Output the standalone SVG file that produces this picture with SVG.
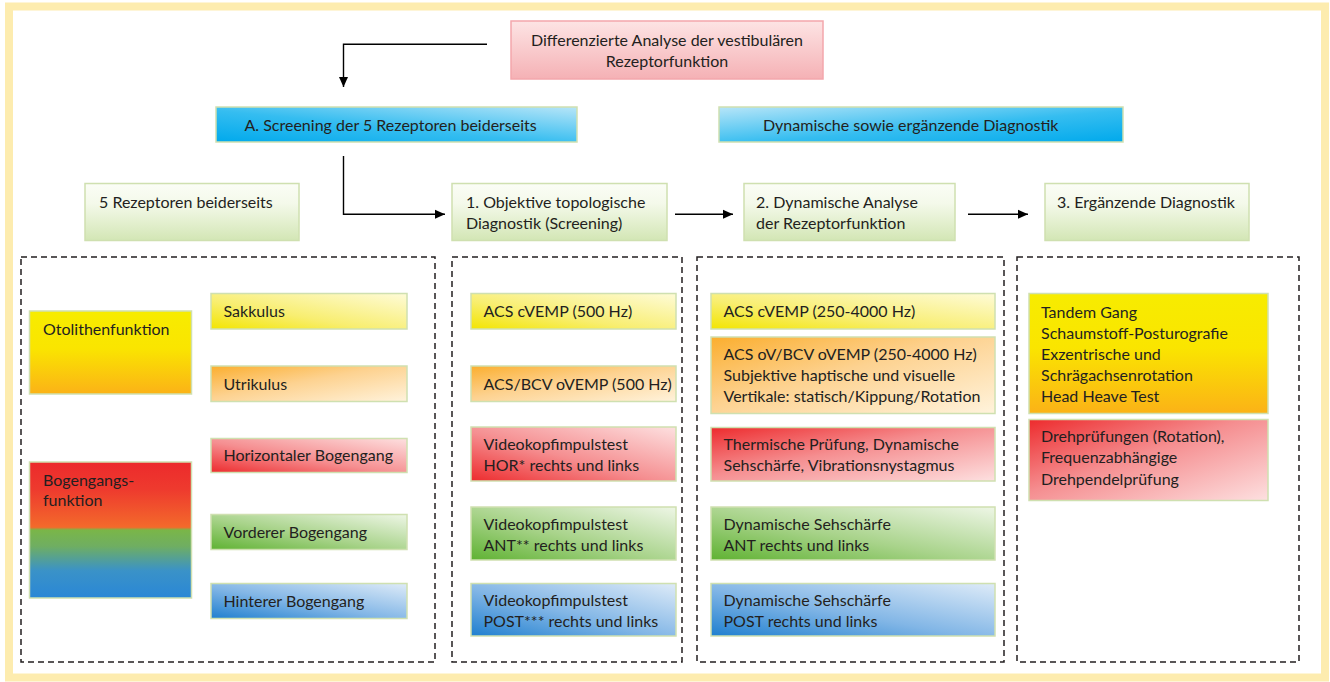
<svg xmlns="http://www.w3.org/2000/svg" width="1330" height="682" viewBox="0 0 1330 682">
<defs>
<style>
text{font-family:Lato,"Open Sans","Liberation Sans",sans-serif;font-size:16px;fill:#231f20}
.box{stroke:#cfe0b0;stroke-width:1.5}
.dash{fill:none;stroke:#231f20;stroke-width:1.5;stroke-dasharray:6 4}
.conn{fill:none;stroke:#000;stroke-width:1.4}
</style>
<marker id="ah" markerUnits="userSpaceOnUse" markerWidth="10" markerHeight="10" viewBox="0 0 10 10" refX="10" refY="5" orient="auto">
<path d="M0,0.5 L10,5 L0,9.5 Z" fill="#000"/>
</marker>
<linearGradient id="gPink" x1="0" y1="0" x2="0" y2="1"><stop offset="0" stop-color="#fde4e4"/><stop offset="1" stop-color="#f5b1b5"/></linearGradient>
<linearGradient id="gBlueA" x1="0" y1="1" x2="1" y2="0"><stop offset="0" stop-color="#00a9ec"/><stop offset="0.45" stop-color="#35bdf0"/><stop offset="1" stop-color="#b7e5f8"/></linearGradient>
<linearGradient id="gBlueB" x1="1" y1="1" x2="0" y2="0"><stop offset="0" stop-color="#00a9ec"/><stop offset="0.45" stop-color="#35bdf0"/><stop offset="1" stop-color="#b7e5f8"/></linearGradient>
<linearGradient id="gGreenV" x1="0" y1="0" x2="0" y2="1"><stop offset="0" stop-color="#fbfdf6"/><stop offset="0.35" stop-color="#f4f9ea"/><stop offset="1" stop-color="#d3e6b5"/></linearGradient>
<linearGradient id="gYO" x1="0" y1="0" x2="0" y2="1"><stop offset="0" stop-color="#f7ec00"/><stop offset="0.45" stop-color="#fae500"/><stop offset="1" stop-color="#fbb217"/></linearGradient>
<linearGradient id="gBog" x1="0" y1="0" x2="0" y2="1"><stop offset="0" stop-color="#ec2a2c"/><stop offset="0.2" stop-color="#ee3a2e"/><stop offset="0.48" stop-color="#f36a2b"/><stop offset="0.5" stop-color="#7ab648"/><stop offset="0.62" stop-color="#6fae62"/><stop offset="0.8" stop-color="#3a92c8"/><stop offset="1" stop-color="#2a87d6"/></linearGradient>
<linearGradient id="gY" x1="0" y1="1" x2="1" y2="0"><stop offset="0" stop-color="#f3e500"/><stop offset="0.4" stop-color="#f8ee70"/><stop offset="1" stop-color="#fefbd8"/></linearGradient>
<linearGradient id="gO" x1="0" y1="0" x2="1" y2="1"><stop offset="0" stop-color="#fbae2e"/><stop offset="0.45" stop-color="#fdd290"/><stop offset="1" stop-color="#fff3dc"/></linearGradient>
<linearGradient id="gR" x1="0" y1="1" x2="1" y2="0"><stop offset="0" stop-color="#ed2b2d"/><stop offset="0.45" stop-color="#f58e90"/><stop offset="1" stop-color="#fde0e0"/></linearGradient>
<linearGradient id="gR2" x1="0" y1="0" x2="1" y2="1"><stop offset="0" stop-color="#ed2b2d"/><stop offset="0.45" stop-color="#f58e90"/><stop offset="1" stop-color="#fde0e0"/></linearGradient>
<linearGradient id="gG" x1="0" y1="1" x2="1" y2="0"><stop offset="0" stop-color="#5fb232"/><stop offset="0.45" stop-color="#a8d38a"/><stop offset="1" stop-color="#eef6e6"/></linearGradient>
<linearGradient id="gB" x1="0" y1="1" x2="1" y2="0"><stop offset="0" stop-color="#1f7fcf"/><stop offset="0.45" stop-color="#82b6e6"/><stop offset="1" stop-color="#deebf8"/></linearGradient>
</defs>

<rect x="9" y="6.5" width="1316" height="671" fill="#ffffff" stroke="#fdecaf" stroke-width="8"/>

<g id="connectors">
<path class="conn" d="M487,44.3 H343.5 V87" marker-end="url(#ah)"/>
<path class="conn" d="M343.5,156 V214.3 H445" marker-end="url(#ah)"/>
<path class="conn" d="M675,214.3 H733" marker-end="url(#ah)"/>
<path class="conn" d="M968,214.3 H1028" marker-end="url(#ah)"/>
</g>

<g id="top">
<rect x="511" y="21" width="312" height="58" fill="url(#gPink)" stroke="#f3a7ac" stroke-width="1.5"/>
<text x="667" y="45.5" text-anchor="middle">Differenzierte Analyse der vestibulären</text>
<text x="667" y="66.5" text-anchor="middle">Rezeptorfunktion</text>
</g>

<g id="screeningA">
<rect class="box" x="216" y="107" width="361" height="35" fill="url(#gBlueA)"/>
<text x="244.5" y="131">A. Screening der 5 Rezeptoren beiderseits</text>
</g>
<g id="dynamischB">
<rect class="box" x="719" y="107" width="404" height="35" fill="url(#gBlueB)"/>
<text x="763" y="131">Dynamische sowie ergänzende Diagnostik</text>
</g>

<g id="rezeptoren">
<rect class="box" x="85" y="183.5" width="214" height="57" fill="url(#gGreenV)"/>
<text x="99" y="208">5 Rezeptoren beiderseits</text>
</g>
<g id="objektive">
<rect class="box" x="452" y="183.5" width="215" height="57" fill="url(#gGreenV)"/>
<text x="466" y="208">1. Objektive topologische</text>
<text x="466" y="229">Diagnostik (Screening)</text>
</g>
<g id="dynamische">
<rect class="box" x="744" y="183.5" width="211" height="57" fill="url(#gGreenV)"/>
<text x="756" y="208">2. Dynamische Analyse</text>
<text x="756" y="229">der Rezeptorfunktion</text>
</g>
<g id="ergaenzende">
<rect class="box" x="1045" y="183.5" width="204" height="57" fill="url(#gGreenV)"/>
<text x="1057" y="208">3. Ergänzende Diagnostik</text>
</g>

<g id="containers">
<rect class="dash" x="21" y="257" width="414" height="405"/>
<rect class="dash" x="452" y="257" width="230" height="405"/>
<rect class="dash" x="697" y="257" width="307" height="405"/>
<rect class="dash" x="1017" y="257" width="282" height="405"/>
</g>

<g id="otolithen">
<rect class="box" x="29.5" y="311" width="162" height="83" fill="url(#gYO)"/>
<text x="43" y="334.5">Otolithenfunktion</text>
</g>
<g id="bogengang">
<rect class="box" x="29.5" y="462" width="162" height="136" fill="url(#gBog)"/>
<text x="43" y="485.5">Bogengangs-</text>
<text x="43" y="505.5">funktion</text>
</g>
<g id="sakkulus">
<rect class="box" x="211" y="293.5" width="196" height="35.5" fill="url(#gY)"/>
<text x="223.5" y="317">Sakkulus</text>
</g>
<g id="utrikulus">
<rect class="box" x="211" y="366" width="196" height="35.5" fill="url(#gO)"/>
<text x="223.5" y="389.5">Utrikulus</text>
</g>
<g id="horizontal">
<rect class="box" x="211" y="438.5" width="196" height="34" fill="url(#gR)"/>
<text x="223.5" y="461">Horizontaler Bogengang</text>
</g>
<g id="vorderer">
<rect class="box" x="211" y="514.5" width="196" height="35" fill="url(#gG)"/>
<text x="223.5" y="537.8">Vorderer Bogengang</text>
</g>
<g id="hinterer">
<rect class="box" x="211" y="583.5" width="196" height="35" fill="url(#gB)"/>
<text x="223.5" y="606.5">Hinterer Bogengang</text>
</g>

<g id="c2-cvemp">
<rect class="box" x="471" y="293.5" width="205" height="35.5" fill="url(#gY)"/>
<text x="483.5" y="317.2">ACS cVEMP (500 Hz)</text>
</g>
<g id="c2-ovemp">
<rect class="box" x="471" y="366" width="205" height="35.5" fill="url(#gO)"/>
<text x="483.5" y="389.5">ACS/BCV oVEMP (500 Hz)</text>
</g>
<g id="c2-hor">
<rect class="box" x="471" y="427" width="205" height="54" fill="url(#gR)"/>
<text x="483.5" y="449.5">Videokopfimpulstest</text>
<text x="483.5" y="470.8">HOR* rechts und links</text>
</g>
<g id="c2-ant">
<rect class="box" x="471" y="507" width="205" height="53" fill="url(#gG)"/>
<text x="483.5" y="529.8">Videokopfimpulstest</text>
<text x="483.5" y="550.8">ANT** rechts und links</text>
</g>
<g id="c2-post">
<rect class="box" x="471" y="583.5" width="205" height="52.5" fill="url(#gB)"/>
<text x="483.5" y="606.2">Videokopfimpulstest</text>
<text x="483.5" y="627.2">POST*** rechts und links</text>
</g>

<g id="c3-cvemp">
<rect class="box" x="711" y="293.5" width="284" height="35.5" fill="url(#gY)"/>
<text x="723.5" y="317.2">ACS cVEMP (250-4000 Hz)</text>
</g>
<g id="c3-ovemp">
<rect class="box" x="711" y="337" width="284" height="76.5" fill="url(#gO)"/>
<text x="723.5" y="359.8">ACS oV/BCV oVEMP (250-4000 Hz)</text>
<text x="723.5" y="381.2">Subjektive haptische und visuelle</text>
<text x="723.5" y="402.2">Vertikale: statisch/Kippung/Rotation</text>
</g>
<g id="c3-thermisch">
<rect class="box" x="711" y="427.5" width="284" height="53.5" fill="url(#gR2)"/>
<text x="723.5" y="449.5">Thermische Prüfung, Dynamische</text>
<text x="723.5" y="470.5">Sehschärfe, Vibrationsnystagmus</text>
</g>
<g id="c3-ant">
<rect class="box" x="711" y="507" width="284" height="53" fill="url(#gG)"/>
<text x="723.5" y="529.8">Dynamische Sehschärfe</text>
<text x="723.5" y="550.8">ANT rechts und links</text>
</g>
<g id="c3-post">
<rect class="box" x="711" y="583.5" width="284" height="52.5" fill="url(#gB)"/>
<text x="723.5" y="606.2">Dynamische Sehschärfe</text>
<text x="723.5" y="627.2">POST rechts und links</text>
</g>

<g id="c4-tandem">
<rect class="box" x="1029" y="293.5" width="239" height="120" fill="url(#gYO)"/>
<text x="1041" y="317.8">Tandem Gang</text>
<text x="1041" y="338.8">Schaumstoff-Posturografie</text>
<text x="1041" y="359.8">Exzentrische und</text>
<text x="1041" y="381.2">Schrägachsenrotation</text>
<text x="1041" y="402.2">Head Heave Test</text>
</g>
<g id="c4-dreh">
<rect class="box" x="1029" y="419.5" width="239" height="81" fill="url(#gR2)"/>
<text x="1041" y="442.2">Drehprüfungen (Rotation),</text>
<text x="1041" y="463.2">Frequenzabhängige</text>
<text x="1041" y="484.5">Drehpendelprüfung</text>
</g>
</svg>
